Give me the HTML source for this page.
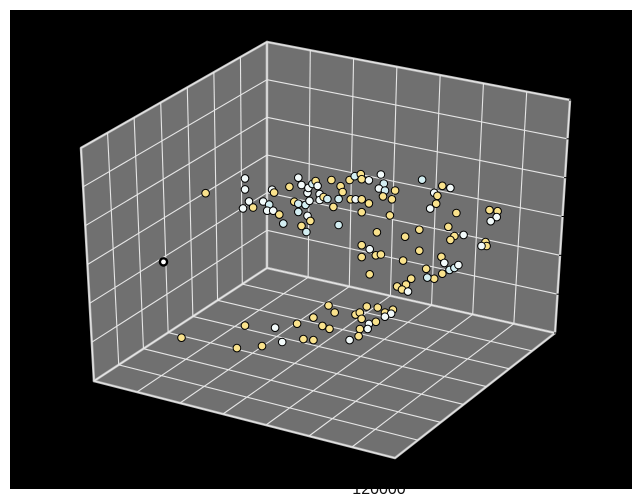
<!DOCTYPE html>
<html><head><meta charset="utf-8"><style>
html,body{margin:0;padding:0;background:#fff;}
svg{display:block;}
</style></head>
<body>
<svg id="chart" width="640" height="500" viewBox="0 0 640 500" xmlns="http://www.w3.org/2000/svg">
  <text x="379" y="494" font-family="Liberation Sans, sans-serif" font-size="16" text-anchor="middle" fill="#111">120000</text>
  <rect x="10" y="10" width="622" height="479" fill="#000"/>
  <g id="panes"></g>
  <g id="grid"></g>
  <g id="ticks"></g>
  <g id="points"></g>
</svg>
<script>
// data (x: front-depth, y: right-depth, z: height; all normalised 0..1 axis units)
const xs = [0.5,0.5,0.5,0.5,0.5,0.5,0.5,0.5,0.5,0.5,0.5,0.5,0.5,0.5,0.5,0.5,0.5,0.5,0.5,0.5,0.5,0.5,0.5,0.5,0.5,0.5,0.5,0.5,0.5,0.5,0.5,0.5,0.5,0.5,0.5,0.5,0.5,0.5,0.5,0.5,0.5,0.5,0.5,0.5,0.5,0.5,0.5,0.5,0.5,0.5,0.5,0.5,0.5,0.5,0.5,0.5,0.5,0.5,0.5,0.5,
  0.734,0.720,0.560,0.670,0.529,0.613,0.470,0.562,0.406,0.554,0.447,0.304,0.456,0.341,0.254,0.324,0.304,0.342,0.244,0.267,0.236,0.265,0.294,0.365,0.400,0.412,0.461,0.500,0.341,
  0.5,0.5,0.5,0.5,0.5,0.5,0.5,0.5,0.5,0.5,0.5,0.5,0.5,0.5,0.5,0.5,0.5,0.5,0.5,0.5,0.5,0.5,0.5,0.5,0.5,0.5,0.5,0.5,0.5,0.5,0.5,0.5,0.5,0.5,0.5,0.5,0.5,0.5,0.5,0.5,0.5,0.5,0.5];
const ys = [0.224,0.224,0.238,0.217,0.252,0.287,0.308,0.301,0.322,0.343,0.318,0.325,0.357,0.378,0.409,0.420,0.395,0.409,0.409,0.434,0.448,0.441,0.444,0.458,0.469,0.476,0.483,0.483,0.441,0.451,0.420,0.437,0.497,0.510,0.524,0.556,0.563,0.549,0.531,0.549,0.587,0.605,0.626,0.629,0.654,0.591,0.608,0.629,0.654,0.629,0.682,0.696,0.706,0.689,0.710,0.745,0.703,0.734,0.727,0.087,
  0.144,0.328,0.260,0.385,0.346,0.421,0.387,0.464,0.405,0.494,0.461,0.396,0.491,0.440,0.499,0.502,0.505,0.534,0.531,0.570,0.579,0.590,0.586,0.573,0.590,0.570,0.595,0.587,0.583,
  0.839,0.909,0.937,0.881,0.892,0.888,0.867,0.958,1.073,1.101,1.098,1.077,0.829,0.780,0.930,0.951,0.983,0.937,1.059,1.063,1.045,0.629,0.657,0.629,0.678,0.696,0.829,0.773,0.906,0.916,0.934,0.951,0.965,0.853,0.909,0.881,0.857,0.657,0.801,0.783,0.752,0.769,0.790];
const zs = [0.711,0.662,0.613,0.576,0.590,0.627,0.619,0.590,0.596,0.585,0.688,0.677,0.549,0.718,0.767,0.738,0.657,0.652,0.616,0.654,0.676,0.709,0.732,0.754,0.770,0.750,0.716,0.690,0.608,0.588,0.557,0.535,0.707,0.702,0.790,0.772,0.748,0.713,0.673,0.598,0.808,0.830,0.845,0.824,0.826,0.724,0.729,0.735,0.724,0.678,0.604,0.864,0.827,0.800,0.797,0.807,0.769,0.765,0.692,0.606,
  0.1,0.1,0.1,0.1,0.1,0.1,0.1,0.1,0.1,0.1,0.1,0.1,0.1,0.1,0.1,0.1,0.1,0.1,0.1,0.1,0.1,0.1,0.1,0.1,0.1,0.1,0.1,0.1,0.1,
  0.882,0.875,0.874,0.836,0.826,0.790,0.762,0.769,0.815,0.818,0.791,0.767,0.658,0.613,0.700,0.665,0.679,0.644,0.669,0.653,0.648,0.532,0.522,0.479,0.501,0.510,0.565,0.505,0.560,0.536,0.510,0.524,0.541,0.492,0.486,0.456,0.454,0.411,0.433,0.402,0.385,0.376,0.373];
// group: 0 = yellow, 1 = white, 2 = light blue
const groups = [1,1,1,1,0,1,2,1,1,0,1,0,2,0,1,1,0,2,2,2,1,1,1,2,0,1,1,1,1,0,0,2,0,2,0,0,0,2,0,2,0,2,0,0,1,0,1,0,0,0,0,1,2,1,2,0,0,0,0,0,
  0,0,0,0,1,1,0,0,0,0,0,0,0,0,0,0,0,0,0,0,0,1,1,1,1,0,0,1,0,
  2,0,1,1,0,0,1,0,0,0,1,1,0,0,0,0,1,0,0,0,1,0,1,0,0,0,0,0,0,1,2,2,1,0,0,0,2,0,0,0,0,0,1];
const extraX = [0.5], extraY = [-0.059], extraZ = [0.260];
const groupColors = ["#f9e28c","#f2fafa","#d3eef2"];
const xTickCount = 7, yTickCount = 7, zTickCount = 6;

const NS = "http://www.w3.org/2000/svg";
const B=[267,268], L=[94,381], R=[555,333], F=[395,458];
const Bt=[267,42], Lt=[81,148], Rt=[570,100];
function lerp(p,q,t){return [p[0]+(q[0]-p[0])*t, p[1]+(q[1]-p[1])*t];}
function proj(x,y,z){
  return [B[0] + x*(L[0]-B[0]) + y*(R[0]-B[0]) + z*(Bt[0]-B[0]),
          B[1] + x*(L[1]-B[1]) + y*(R[1]-B[1]) + z*(Bt[1]-B[1])];
}
function mk(tag, attrs, parent){
  const e=document.createElementNS(NS,tag);
  for(const k in attrs) e.setAttribute(k,attrs[k]);
  parent.appendChild(e); return e;
}
const panes=document.getElementById('panes'), grid=document.getElementById('grid');
const paneDefs=[["left-pane",[B,L,Lt,Bt]],["right-pane",[B,R,Rt,Bt]],["floor-pane",[B,L,F,R]]];
paneDefs.forEach(([n,pts])=>{
  const p=mk('polygon',{points:pts.map(q=>q.join(',')).join(' '),fill:'#707070',stroke:'#b8b8b8','stroke-width':2.5,'stroke-linejoin':'round'},panes);
  
  
});
function line(p,q,n){
  const l=mk('line',{x1:p[0],y1:p[1],x2:q[0],y2:q[1],stroke:'#e6e6e6','stroke-width':1.1},grid);
  
  
}
for(let i=0;i<=xTickCount;i++){const t=i/xTickCount; line(lerp(B,L,t),lerp(Bt,Lt,t),'grid-line-x');}
for(let i=0;i<=zTickCount;i++){const t=i/zTickCount; line(lerp(B,Bt,t),lerp(L,Lt,t),'grid-line-z');}
for(let i=0;i<=yTickCount;i++){const t=i/yTickCount; line(lerp(B,R,t),lerp(Bt,Rt,t),'grid-line-y');}
for(let i=0;i<=zTickCount;i++){const t=i/zTickCount; line(lerp(B,Bt,t),lerp(R,Rt,t),'grid-line-z');}
for(let i=0;i<=xTickCount;i++){const t=i/xTickCount; line(lerp(B,L,t),lerp(R,F,t),'floor-grid-line');}
for(let i=0;i<=yTickCount;i++){const t=i/yTickCount; line(lerp(B,R,t),lerp(L,F,t),'floor-grid-line');}
const ticks=document.getElementById('ticks');
for(let i=0;i<=zTickCount;i++){
  const p=lerp(R,Rt,i/zTickCount);
  const tk=mk('line',{x1:p[0]-1,y1:p[1],x2:p[0]+5,y2:p[1],stroke:'#000','stroke-width':1},ticks);
  
  
}
const pg=document.getElementById('points');
for(let i=0;i<xs.length;i++){
  const p=proj(xs[i],ys[i],zs[i]);
  const c=mk('circle',{cx:p[0].toFixed(1),cy:p[1].toFixed(1),r:3.8,fill:groupColors[groups[i]],stroke:'#000','stroke-width':1},pg);
  
  
}
for(let i=0;i<extraX.length;i++){
  const p=proj(extraX[i],extraY[i],extraZ[i]);
  const c=mk('circle',{cx:p[0].toFixed(1),cy:p[1].toFixed(1),r:3.6,fill:'#fff',stroke:'#000','stroke-width':2.4},pg);
  
  
}
</script>
</body></html>
